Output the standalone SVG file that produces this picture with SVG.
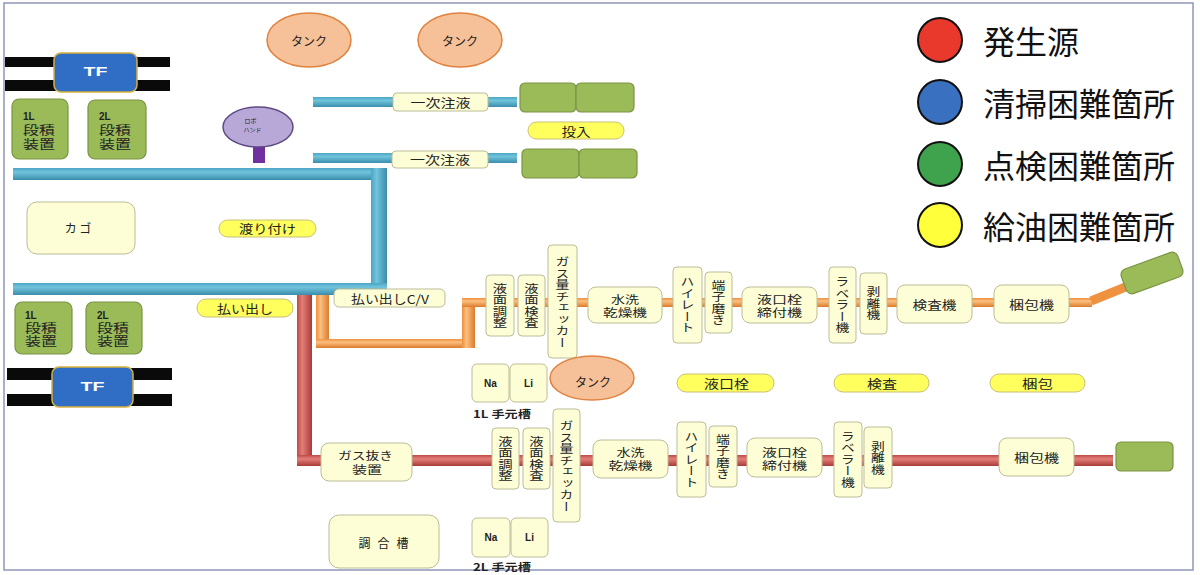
<svg xmlns="http://www.w3.org/2000/svg" width="1200" height="575" viewBox="0 0 1200 575">
<defs>
<linearGradient id="gBh" x1="0" y1="0" x2="0" y2="1"><stop offset="0" stop-color="#4aa5c4"/><stop offset="0.35" stop-color="#72c4dc"/><stop offset="1" stop-color="#3a8dab"/></linearGradient>
<linearGradient id="gBv" x1="0" y1="0" x2="1" y2="0"><stop offset="0" stop-color="#4aa5c4"/><stop offset="0.35" stop-color="#72c4dc"/><stop offset="1" stop-color="#3a8dab"/></linearGradient>
<linearGradient id="gRh" x1="0" y1="0" x2="0" y2="1"><stop offset="0" stop-color="#bd4a45"/><stop offset="0.35" stop-color="#e47e78"/><stop offset="1" stop-color="#a83b37"/></linearGradient>
<linearGradient id="gRv" x1="0" y1="0" x2="1" y2="0"><stop offset="0" stop-color="#bd4a45"/><stop offset="0.35" stop-color="#e47e78"/><stop offset="1" stop-color="#a83b37"/></linearGradient>
<linearGradient id="gOh" x1="0" y1="0" x2="0" y2="1"><stop offset="0" stop-color="#ee8f3e"/><stop offset="0.35" stop-color="#fbc07f"/><stop offset="1" stop-color="#dc7b2c"/></linearGradient>
<linearGradient id="gOv" x1="0" y1="0" x2="1" y2="0"><stop offset="0" stop-color="#ee8f3e"/><stop offset="0.35" stop-color="#fbc07f"/><stop offset="1" stop-color="#dc7b2c"/></linearGradient>
</defs>
<style>
.cream{fill:#fefed6;stroke:#bcbc98;stroke-width:1}
.pill{fill:#ffff5e;stroke:#c8bf78;stroke-width:1}
.grn{fill:#9bbb59;stroke:#7a9444;stroke-width:1.2}
.tank{fill:#f6c198;stroke:#e0823f;stroke-width:1.5}
.tf{fill:#2f6ec4;stroke:#d8b13c;stroke-width:1.5}
.bar{fill:#0a0a0a}
.t{font-family:"Noto Sans CJK JP","Noto Sans",sans-serif;fill:#222;font-size:12px;dominant-baseline:central;text-anchor:middle}
.v{writing-mode:vertical-rl;font-size:11.5px}
.s{font-size:10px}
.two{font-size:11px}
.lat{font-family:"Liberation Sans","Noto Sans CJK JP",sans-serif;font-weight:bold}
.lg{font-family:"Noto Sans CJK JP",sans-serif;font-size:32px;fill:#111;dominant-baseline:central}
</style>
<rect x="0" y="0" width="1200" height="575" fill="#fff"/>
<rect x="4" y="3" width="1189" height="567" fill="none" stroke="#8e97b8" stroke-width="1.5"/>

<g id="connectors">
<rect x="13" y="168" width="374" height="12" fill="url(#gBh)"/>
<rect x="371" y="168" width="16" height="127" fill="url(#gBv)"/>
<rect x="13" y="283" width="374" height="12" fill="url(#gBh)"/>
<rect x="313" y="97" width="204" height="10" fill="url(#gBh)"/>
<rect x="313" y="153" width="204" height="10" fill="url(#gBh)"/>
<rect x="297" y="295" width="15" height="171" fill="url(#gRv)"/>
<rect x="297" y="455" width="816" height="11" fill="url(#gRh)"/>
<rect x="316" y="295" width="13" height="53" fill="url(#gOv)"/>
<rect x="316" y="339" width="159" height="9" fill="url(#gOh)"/>
<rect x="462" y="298" width="13" height="50" fill="url(#gOv)"/>
<rect x="462" y="298" width="630" height="9" fill="url(#gOh)"/>
<line x1="1091" y1="301" x2="1128" y2="286" stroke="#ee9240" stroke-width="9"/>
</g>

<g id="tank1"><ellipse class="tank" cx="309" cy="40" rx="42" ry="27"/><text class="t" x="309" y="40" textLength="36" lengthAdjust="spacingAndGlyphs">タンク</text></g>
<g id="tank2"><ellipse class="tank" cx="460" cy="40" rx="42" ry="27"/><text class="t" x="460" y="40" textLength="36" lengthAdjust="spacingAndGlyphs">タンク</text></g>

<g id="tf-top">
<rect class="bar" x="5" y="57" width="165" height="10"/><rect class="bar" x="5" y="80" width="165" height="11"/>
<rect class="tf" x="54" y="53" width="83" height="39" rx="7"/>
<text class="t lat" x="95.5" y="72" style="fill:#fff" font-size="13" textLength="24" lengthAdjust="spacingAndGlyphs">TF</text>
</g>
<g id="tf-bottom">
<rect class="bar" x="7" y="368" width="165" height="12"/><rect class="bar" x="7" y="394" width="165" height="12"/>
<rect class="tf" x="52" y="367" width="81" height="40" rx="7"/>
<text class="t lat" x="92.5" y="387" style="fill:#fff" font-size="13" textLength="24" lengthAdjust="spacingAndGlyphs">TF</text>
</g>

<g id="stack-1L-top"><rect class="grn" x="12" y="99" width="56" height="60" rx="7"/>
<text class="t lat" x="23" y="116" style="text-anchor:start;font-size:10px">1L</text>
<text class="t" x="39" y="129" font-size="10.5" textLength="32" lengthAdjust="spacingAndGlyphs">段積</text>
<text class="t" x="39" y="143" font-size="10.5" textLength="32" lengthAdjust="spacingAndGlyphs">装置</text></g>
<g id="stack-2L-top"><rect class="grn" x="88" y="100" width="58" height="59" rx="7"/>
<text class="t lat" x="99" y="116" style="text-anchor:start;font-size:10px">2L</text>
<text class="t" x="115" y="129" font-size="10.5" textLength="32" lengthAdjust="spacingAndGlyphs">段積</text>
<text class="t" x="115" y="143" font-size="10.5" textLength="32" lengthAdjust="spacingAndGlyphs">装置</text></g>
<g id="stack-1L-bottom"><rect class="grn" x="15" y="302" width="57" height="52" rx="7"/>
<text class="t lat" x="25" y="315" style="text-anchor:start;font-size:10px">1L</text>
<text class="t" x="41" y="327" font-size="10.5" textLength="32" lengthAdjust="spacingAndGlyphs">段積</text>
<text class="t" x="41" y="340" font-size="10.5" textLength="32" lengthAdjust="spacingAndGlyphs">装置</text></g>
<g id="stack-2L-bottom"><rect class="grn" x="86" y="302" width="56" height="52" rx="7"/>
<text class="t lat" x="97" y="315" style="text-anchor:start;font-size:10px">2L</text>
<text class="t" x="113" y="327" font-size="10.5" textLength="32" lengthAdjust="spacingAndGlyphs">段積</text>
<text class="t" x="113" y="340" font-size="10.5" textLength="32" lengthAdjust="spacingAndGlyphs">装置</text></g>

<g id="robot-hand">
<rect x="253" y="138" width="12" height="25" fill="#7030a0"/>
<ellipse cx="258" cy="127" rx="35" ry="20" fill="#b7a8d8" stroke="#5f4a85" stroke-width="1.5"/>
<text class="t" transform="translate(250.5,120) scale(0.5)" font-size="14">ロボ</text>
<text class="t" transform="translate(252.5,129) scale(0.5)" font-size="14">ハンド</text>
</g>

<g id="inject1"><rect class="cream" x="393" y="93" width="95" height="18" rx="4"/><text class="t" x="440.5" y="102" textLength="60" lengthAdjust="spacingAndGlyphs">一次注液</text></g>
<g id="inject2"><rect class="cream" x="392" y="151" width="96" height="17" rx="4"/><text class="t" x="440" y="159.5" textLength="60" lengthAdjust="spacingAndGlyphs">一次注液</text></g>
<g id="green-top-1"><rect class="grn" x="520" y="83" width="56" height="29" rx="5"/><rect class="grn" x="576" y="83" width="58" height="29" rx="5"/></g>
<g id="green-top-2"><rect class="grn" x="522" y="149" width="57" height="29" rx="5"/><rect class="grn" x="579" y="149" width="58" height="29" rx="5"/></g>
<g id="lbl-tounyu"><rect class="pill" x="528" y="122" width="96" height="17" rx="8.5"/><text class="t" x="576" y="131" textLength="29" lengthAdjust="spacingAndGlyphs">投入</text></g>

<g id="kago"><rect class="cream" x="27" y="202" width="108" height="52" rx="10"/><text class="t" x="78" y="227" font-size="14">カ ゴ</text></g>
<g id="lbl-watari"><rect class="pill" x="219" y="220" width="97" height="17" rx="8.5"/><text class="t" x="267.5" y="228.5" textLength="57" lengthAdjust="spacingAndGlyphs">渡り付け</text></g>
<g id="lbl-haraidashi"><rect class="pill" x="197" y="299" width="96" height="18" rx="9"/><text class="t" x="245" y="308" textLength="56" lengthAdjust="spacingAndGlyphs">払い出し</text></g>
<g id="haraidashi-cv"><rect class="cream" x="334" y="289" width="111" height="18" rx="5"/><text class="t" x="390" y="298" textLength="78" lengthAdjust="spacingAndGlyphs">払い出しC/V</text></g>

<g id="u-ekimen-chosei"><rect class="cream" x="486" y="275" width="28" height="61" rx="4"/><text class="t v" transform="translate(500,305.5) scale(1.25,1)">液面調整</text></g>
<g id="u-ekimen-kensa"><rect class="cream" x="518" y="275" width="27" height="61" rx="4"/><text class="t v" transform="translate(531.5,305.5) scale(1.25,1)">液面検査</text></g>
<g id="u-gas-checker"><rect class="cream" x="548" y="245" width="29" height="113" rx="4"/><text class="t v" transform="translate(562.5,302) scale(1.2,1)">ガス量チェッカー</text></g>
<g id="u-suisen"><rect class="cream" x="588" y="287" width="74" height="36" rx="8"/><text class="t two" x="625" y="298.5" textLength="28" lengthAdjust="spacingAndGlyphs">水洗</text><text class="t two" x="625" y="312" textLength="44" lengthAdjust="spacingAndGlyphs">乾燥機</text></g>
<g id="u-hirate"><rect class="cream" x="673" y="267" width="29" height="76" rx="4"/><text class="t v" transform="translate(687.5,305) scale(1.2,1)">ハイレート</text></g>
<g id="u-tanshi"><rect class="cream" x="705" y="272" width="27" height="61" rx="4"/><text class="t v" transform="translate(718.5,302.5) scale(1.2,1)">端子磨き</text></g>
<g id="u-ekikousen"><rect class="cream" x="742" y="287" width="75" height="36" rx="8"/><text class="t two" x="779.5" y="298.5" textLength="45" lengthAdjust="spacingAndGlyphs">液口栓</text><text class="t two" x="779.5" y="312" textLength="45" lengthAdjust="spacingAndGlyphs">締付機</text></g>
<g id="u-labeler"><rect class="cream" x="829" y="267" width="27" height="76" rx="4"/><text class="t v" transform="translate(842.5,305) scale(1.2,1)">ラベラー機</text></g>
<g id="u-hakuri"><rect class="cream" x="860" y="273" width="27" height="61" rx="4"/><text class="t v" transform="translate(873.5,303.5) scale(1.2,1)">剥離機</text></g>
<g id="u-kensaki"><rect class="cream" x="897" y="285" width="75" height="38" rx="8"/><text class="t" x="934.5" y="304" textLength="44" lengthAdjust="spacingAndGlyphs">検査機</text></g>
<g id="u-konpoki"><rect class="cream" x="994" y="285" width="75" height="38" rx="8"/><text class="t" x="1031.5" y="304" textLength="45" lengthAdjust="spacingAndGlyphs">梱包機</text></g>
<g id="u-green-end"><rect class="grn" x="-30" y="-13" width="60" height="26" rx="6" transform="translate(1152,273) rotate(-20)"/></g>

<g id="na-1L"><rect class="cream" x="472" y="364" width="37" height="38" rx="5"/><text class="t lat s" x="490.5" y="383">Na</text></g>
<g id="li-1L"><rect class="cream" x="510" y="364" width="37" height="38" rx="5"/><text class="t lat s" x="528.5" y="383">Li</text></g>
<text class="t s" x="502" y="413" textLength="58" lengthAdjust="spacingAndGlyphs" style="font-weight:bold">1L 手元槽</text>
<g id="tank3"><ellipse class="tank" cx="592" cy="378" rx="42" ry="22"/><text class="t" x="593" y="381" textLength="36" lengthAdjust="spacingAndGlyphs">タンク</text></g>
<g id="lbl-ekikousen"><rect class="pill" x="677" y="374" width="97" height="18" rx="9"/><text class="t" x="726.5" y="383" textLength="45" lengthAdjust="spacingAndGlyphs">液口栓</text></g>
<g id="lbl-kensa"><rect class="pill" x="834" y="374" width="95" height="18" rx="9"/><text class="t" x="882" y="383" textLength="30" lengthAdjust="spacingAndGlyphs">検査</text></g>
<g id="lbl-konpo"><rect class="pill" x="990" y="374" width="95" height="18" rx="9"/><text class="t" x="1037.5" y="383" textLength="31" lengthAdjust="spacingAndGlyphs">梱包</text></g>

<g id="gasnuki"><rect class="cream" x="321" y="443" width="91" height="38" rx="8"/><text class="t two" x="365.5" y="455" textLength="55" lengthAdjust="spacingAndGlyphs">ガス抜き</text><text class="t two" x="367" y="468.5" textLength="30" lengthAdjust="spacingAndGlyphs">装置</text></g>
<g id="chogoso"><rect class="cream" x="329" y="515" width="110" height="53" rx="10"/><text class="t" x="383.5" y="542" font-size="13" textLength="50" lengthAdjust="spacing">調合槽</text></g>

<g id="l-ekimen-chosei"><rect class="cream" x="492" y="428" width="27" height="61" rx="4"/><text class="t v" transform="translate(505.5,458.5) scale(1.25,1)">液面調整</text></g>
<g id="l-ekimen-kensa"><rect class="cream" x="523" y="428" width="27" height="61" rx="4"/><text class="t v" transform="translate(536.5,458.5) scale(1.25,1)">液面検査</text></g>
<g id="l-gas-checker"><rect class="cream" x="553" y="409" width="27" height="113" rx="4"/><text class="t v" transform="translate(566.5,466) scale(1.2,1)">ガス量チェッカー</text></g>
<g id="l-suisen"><rect class="cream" x="593" y="440" width="75" height="38" rx="8"/><text class="t two" x="630.5" y="451.5" textLength="28" lengthAdjust="spacingAndGlyphs">水洗</text><text class="t two" x="630.5" y="465" textLength="44" lengthAdjust="spacingAndGlyphs">乾燥機</text></g>
<g id="l-hirate"><rect class="cream" x="677" y="422" width="29" height="75" rx="4"/><text class="t v" transform="translate(691.5,459.5) scale(1.2,1)">ハイレート</text></g>
<g id="l-tanshi"><rect class="cream" x="709" y="426" width="28" height="61" rx="4"/><text class="t v" transform="translate(723,456.5) scale(1.2,1)">端子磨き</text></g>
<g id="l-ekikousen"><rect class="cream" x="747" y="438" width="75" height="39" rx="8"/><text class="t two" x="784.5" y="451.5" textLength="45" lengthAdjust="spacingAndGlyphs">液口栓</text><text class="t two" x="784.5" y="465" textLength="45" lengthAdjust="spacingAndGlyphs">締付機</text></g>
<g id="l-labeler"><rect class="cream" x="834" y="422" width="28" height="75" rx="4"/><text class="t v" transform="translate(848,459.5) scale(1.2,1)">ラベラー機</text></g>
<g id="l-hakuri"><rect class="cream" x="864" y="427" width="28" height="61" rx="4"/><text class="t v" transform="translate(878,458) scale(1.2,1)">剥離機</text></g>
<g id="l-konpoki"><rect class="cream" x="999" y="438" width="75" height="38" rx="8"/><text class="t" x="1036.5" y="457" textLength="45" lengthAdjust="spacingAndGlyphs">梱包機</text></g>
<g id="l-green-end"><rect class="grn" x="1116" y="442" width="57" height="29" rx="5"/></g>

<g id="na-2L"><rect class="cream" x="472" y="518" width="38" height="39" rx="5"/><text class="t lat s" x="491" y="537">Na</text></g>
<g id="li-2L"><rect class="cream" x="511" y="518" width="37" height="39" rx="5"/><text class="t lat s" x="529.5" y="537">Li</text></g>
<text class="t s" x="502" y="566" textLength="58" lengthAdjust="spacingAndGlyphs" style="font-weight:bold">2L 手元槽</text>

<g id="legend">
<circle cx="940" cy="40" r="22" fill="#e8392c" stroke="#111" stroke-width="2"/>
<text class="lg" x="983" y="40">発生源</text>
<circle cx="940" cy="102" r="22" fill="#3a70c0" stroke="#111" stroke-width="2"/>
<text class="lg" x="983" y="102">清掃困難箇所</text>
<circle cx="940" cy="164" r="22" fill="#3fa24c" stroke="#111" stroke-width="2"/>
<text class="lg" x="983" y="164">点検困難箇所</text>
<circle cx="940" cy="225" r="22" fill="#ffff3c" stroke="#111" stroke-width="2"/>
<text class="lg" x="983" y="225">給油困難箇所</text>
</g>
</svg>
